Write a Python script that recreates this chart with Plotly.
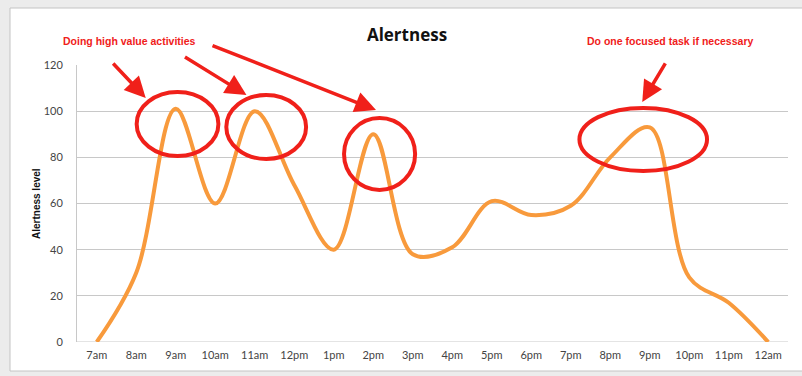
import plotly.graph_objects as go

hours = ["7am", "8am", "9am", "10am", "11am", "12pm", "1pm", "2pm", "3pm", "4pm",
         "5pm", "6pm", "7pm", "8pm", "9pm", "10pm", "11pm", "12am"]
alertness = [0, 30, 101, 60, 100, 68, 40, 90, 38, 41, 61, 55, 59, 80, 93, 28, 17, 0]
y_ticks = [0, 20, 40, 60, 80, 100, 120]

W, H = 802, 376
L, R, T, B = 77, 14, 65, 34
pw, ph = W - L - R, H - T - B


def px(x):
    return (x - L) / pw


def py(y):
    return (H - B - y) / ph


RED = "#f0201a"
fig = go.Figure()
fig.add_trace(go.Scatter(
    x=list(range(len(hours))), y=alertness, mode="lines",
    line=dict(color="#f89a3c", width=4, shape="spline", smoothing=1.0),
    hoverinfo="skip", showlegend=False,
))

shapes = [
    dict(type="rect", xref="paper", yref="paper", x0=px(10), x1=px(812), y0=py(371), y1=py(8),
         fillcolor="white", line=dict(color="#c4c4c4", width=1), layer="below"),
]
ellipses = [
    (1.01, 3.08, 80.6, 108.3),
    (3.28, 5.30, 79.3, 107.0),
    (6.26, 8.06, 65.9, 97.0),
    (12.22, 15.45, 74.1, 101.4),
]
for x0, x1, y0, y1 in ellipses:
    shapes.append(dict(type="circle", xref="x", yref="y", x0=x0, x1=x1, y0=y0, y1=y1,
                       line=dict(color=RED, width=4), layer="above"))

annotations = [
    dict(text="<b>Doing high value activities</b>", xref="paper", yref="paper",
         x=px(129.5), y=py(41), xanchor="center", yanchor="middle", showarrow=False,
         font=dict(family="Arial", size=10.5, color=RED)),
    dict(text="<b>Do one focused task if necessary</b>", xref="paper", yref="paper",
         x=px(669.5), y=py(41), xanchor="center", yanchor="middle", showarrow=False,
         font=dict(family="Arial", size=10.5, color=RED)),
    dict(text="<b>Alertness level</b>", xref="paper", yref="paper", x=px(36.5), y=0.5,
         xanchor="center", yanchor="middle",
         textangle=-90, showarrow=False, font=dict(family="Arial", size=10, color="#111")),
]
arrows = [
    (1.24, 105.7, -34, -36),
    (3.79, 107.0, -63, -39),
    (7.07, 100.5, -165, -65),
    (13.81, 104.0, 24, -40),
]
for x, y, ax, ay in arrows:
    annotations.append(dict(x=x, y=y, xref="x", yref="y", ax=ax, ay=ay, text="",
                            showarrow=True, arrowhead=2, arrowsize=1.2, arrowwidth=3.5,
                            arrowcolor=RED))

fig.update_layout(
    width=W, height=H,
    margin=dict(l=L, r=R, t=T, b=B),
    paper_bgcolor="#ececec", plot_bgcolor="white",
    title=dict(text="<b>Alertness</b>", x=px(407), xref="paper", xanchor="center",
               y=1 - 35 / H, yanchor="middle", font=dict(family="Open Sans", size=17, color="#111")),
    shapes=shapes, annotations=annotations,
    xaxis=dict(range=[-0.5, len(hours) - 0.5], tickmode="array",
               tickvals=list(range(len(hours))), ticktext=hours,
               showgrid=False, zeroline=False, showline=False, ticks="",
               tickfont=dict(family="Lato", size=11, color="#444"), ticklabelstandoff=5),
    yaxis=dict(range=[0, 120], tickvals=y_ticks, showgrid=True, gridcolor="#c8c8c8",
               gridwidth=1, zeroline=False, showline=True, linecolor="#c8c8c8",
               ticks="", tickfont=dict(family="Lato", size=11, color="#444"),
               ticklabelstandoff=11),
)
fig.add_hline(y=0, line=dict(color="#c8c8c8", width=1), layer="below")

fig.write_html("out.html", config={"displayModeBar": False},
               post_script="document.body.style.margin='0px';")
